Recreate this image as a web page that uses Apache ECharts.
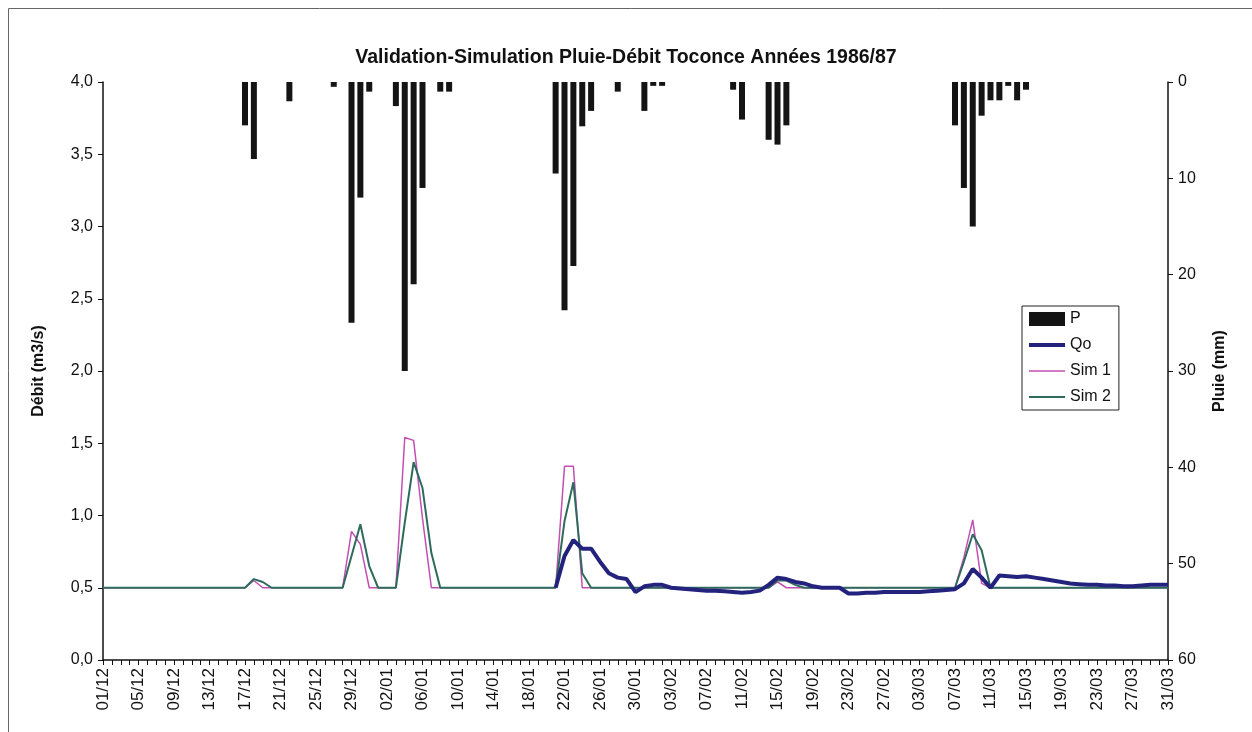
<!DOCTYPE html>
<html>
<head>
<meta charset="utf-8">
<script src="https://cdn.jsdelivr.net/npm/echarts@6/dist/echarts.min.js"></script>
<style>
html,body{margin:0;padding:0;background:#fff;}
#chart{width:1252px;height:732px;}
</style>
</head>
<body>
<div id="chart"></div>
<script>
var dates = [
'01/12','02/12','03/12','04/12','05/12','06/12','07/12','08/12','09/12','10/12','11/12','12/12','13/12','14/12','15/12','16/12','17/12','18/12','19/12','20/12','21/12','22/12','23/12','24/12','25/12','26/12','27/12','28/12','29/12','30/12','31/12',
'01/01','02/01','03/01','04/01','05/01','06/01','07/01','08/01','09/01','10/01','11/01','12/01','13/01','14/01','15/01','16/01','17/01','18/01','19/01','20/01','21/01','22/01','23/01','24/01','25/01','26/01','27/01','28/01','29/01','30/01','31/01',
'01/02','02/02','03/02','04/02','05/02','06/02','07/02','08/02','09/02','10/02','11/02','12/02','13/02','14/02','15/02','16/02','17/02','18/02','19/02','20/02','21/02','22/02','23/02','24/02','25/02','26/02','27/02','28/02',
'01/03','02/03','03/03','04/03','05/03','06/03','07/03','08/03','09/03','10/03','11/03','12/03','13/03','14/03','15/03','16/03','17/03','18/03','19/03','20/03','21/03','22/03','23/03','24/03','25/03','26/03','27/03','28/03','29/03','30/03','31/03'
];

// Pluie P (mm), daily
var rainDec = [0,0,0,0,0,0,0,0,0,0, 0,0,0,0,0,0,4.5,8,0,0, 0,2,0,0,0,0,0.5,0,25,12, 1];
var rainJan = [0,0,2.5,30,21,11,0,1,1,0, 0,0,0,0,0,0,0,0,0,0, 9.5,23.7,19.1,4.6,3,0,0,1,0,0, 3];
var rainFeb = [0.4,0.4,0,0,0,0,0,0,0,0.8, 3.9,0,0,6,6.5,4.5,0,0,0,0, 0,0,0,0,0,0,0,0];
var rainMar = [0,0,0,0,0,0,4.5,11,15,3.5, 1.9,1.9,0.4,1.9,0.8,0,0,0,0,0, 0,0,0,0,0,0,0,0,0,0, 0];

// Qo observed (m3/s)
var qoDec = [null,null,null,null,null,null,null,null,null,null, null,null,null,null,null,null,null,null,null,null, null,null,null,null,null,null,null,null,null,null, null];
var qoJan = [null,null,null,null,null,null,null,null,null,null, null,null,null,null,null,null,null,null,null,null, 0.5,0.72,0.83,0.77,0.77,0.68,0.6,0.57,0.56,0.47, 0.51];
var qoFeb = [0.52,0.52,0.5,0.495,0.49,0.485,0.48,0.48,0.475,0.47, 0.465,0.47,0.48,0.52,0.57,0.56,0.54,0.53,0.51,0.5, 0.5,0.5,0.46,0.46,0.465,0.465,0.47,0.47];
var qoMar = [0.47,0.47,0.47,0.475,0.48,0.485,0.49,0.53,0.63,0.57, 0.5,0.585,0.58,0.575,0.58,0.57,0.56,0.55,0.54,0.53, 0.525,0.52,0.52,0.515,0.515,0.51,0.51,0.515,0.52,0.52, 0.52];

// Sim 1
var s1Dec = [0.5,0.5,0.5,0.5,0.5,0.5,0.5,0.5,0.5,0.5, 0.5,0.5,0.5,0.5,0.5,0.5,0.5,0.55,0.5,0.5, 0.5,0.5,0.5,0.5,0.5,0.5,0.5,0.5,0.89,0.8, 0.5];
var s1Jan = [0.5,0.5,0.5,1.54,1.52,0.98,0.5,0.5,0.5,0.5, 0.5,0.5,0.5,0.5,0.5,0.5,0.5,0.5,0.5,0.5, 0.5,1.34,1.34,0.5,0.5,0.5,0.5,0.5,0.5,0.5, 0.5];
var s1Feb = [0.5,0.5,0.5,0.5,0.5,0.5,0.5,0.5,0.5,0.5, 0.5,0.5,0.5,0.5,0.54,0.5,0.5,0.5,0.5,0.5, 0.5,0.5,0.5,0.5,0.5,0.5,0.5,0.5];
var s1Mar = [0.5,0.5,0.5,0.5,0.5,0.5,0.5,0.71,0.97,0.53, 0.5,0.5,0.5,0.5,0.5,0.5,0.5,0.5,0.5,0.5, 0.5,0.5,0.5,0.5,0.5,0.5,0.5,0.5,0.5,0.5, 0.5];

// Sim 2
var s2Dec = [0.5,0.5,0.5,0.5,0.5,0.5,0.5,0.5,0.5,0.5, 0.5,0.5,0.5,0.5,0.5,0.5,0.5,0.56,0.54,0.5, 0.5,0.5,0.5,0.5,0.5,0.5,0.5,0.5,0.72,0.94, 0.65];
var s2Jan = [0.5,0.5,0.5,0.95,1.37,1.19,0.74,0.5,0.5,0.5, 0.5,0.5,0.5,0.5,0.5,0.5,0.5,0.5,0.5,0.5, 0.5,0.96,1.23,0.6,0.5,0.5,0.5,0.5,0.5,0.5, 0.5];
var s2Feb = [0.5,0.5,0.5,0.5,0.5,0.5,0.5,0.5,0.5,0.5, 0.5,0.5,0.5,0.5,0.55,0.55,0.52,0.5,0.5,0.5, 0.5,0.5,0.5,0.5,0.5,0.5,0.5,0.5];
var s2Mar = [0.5,0.5,0.5,0.5,0.5,0.5,0.5,0.68,0.87,0.76, 0.5,0.5,0.5,0.5,0.5,0.5,0.5,0.5,0.5,0.5, 0.5,0.5,0.5,0.5,0.5,0.5,0.5,0.5,0.5,0.5, 0.5];

var rain = rainDec.concat(rainJan, rainFeb, rainMar);
var qo = qoDec.concat(qoJan, qoFeb, qoMar);
var sim1 = s1Dec.concat(s1Jan, s1Feb, s1Mar);
var sim2 = s2Dec.concat(s2Jan, s2Feb, s2Mar);

var FONT = '"Liberation Sans", Arial, sans-serif';
var chart = echarts.init(document.getElementById('chart'), null, {renderer: 'canvas'});
chart.setOption({
  animation: false,
  backgroundColor: '#ffffff',
  textStyle: {fontFamily: FONT},
  title: {
    text: 'Validation-Simulation Pluie-Débit Toconce Années 1986/87',
    left: 'center', top: 43,
    textStyle: {fontFamily: FONT, fontSize: 19.5, fontWeight: 'bold', color: '#111'}
  },
  graphic: [{
    type: 'rect', silent: true,
    shape: {x: 8.5, y: 8.5, width: 1260, height: 760},
    style: {fill: 'none', stroke: '#666', lineWidth: 1}
  }],
  legend: {
    orient: 'vertical', left: 1022, top: 306,
    backgroundColor: '#fff',
    borderColor: '#222', borderWidth: 1,
    padding: [5, 8, 5, 5],
    itemWidth: 36, itemHeight: 14, itemGap: 10,
    textStyle: {fontFamily: FONT, fontSize: 16, color: '#111'},
    data: [
      {name: 'P', icon: 'rect'},
      {name: 'Qo', itemStyle: {opacity: 0}, lineStyle: {width: 4}},
      {name: 'Sim 1', itemStyle: {opacity: 0}, lineStyle: {width: 1.5}},
      {name: 'Sim 2', itemStyle: {opacity: 0}, lineStyle: {width: 2}}
    ]
  },
  grid: {left: 103, right: 84, top: 82, bottom: 72, containLabel: false},
  xAxis: {
    type: 'category', data: dates, boundaryGap: false,
    axisLine: {lineStyle: {color: '#111', width: 1.5}},
    axisTick: {show: true, interval: 0, length: 5, inside: false, lineStyle: {color: '#111'}},
    axisLabel: {interval: 3, rotate: 90, fontSize: 17, color: '#111', margin: 8, fontFamily: FONT},
    splitLine: {show: false}
  },
  yAxis: [{
    type: 'value', min: 0, max: 4, interval: 0.5,
    name: 'Débit (m3/s)', nameLocation: 'middle', nameGap: 56, nameRotate: 90,
    nameTextStyle: {fontFamily: FONT, fontSize: 16, fontWeight: 'bold', color: '#111'},
    axisLine: {show: true, lineStyle: {color: '#111', width: 1.5}},
    axisTick: {show: true, length: 5, lineStyle: {color: '#111'}},
    axisLabel: {fontSize: 16, color: '#111', margin: 10, fontFamily: FONT,
      formatter: function (v) { return v.toFixed(1).replace('.', ','); }},
    splitLine: {show: false}
  }, {
    type: 'value', min: 0, max: 60, interval: 10, inverse: true,
    name: 'Pluie (mm)', nameLocation: 'middle', nameGap: 44, nameRotate: 90,
    nameTextStyle: {fontFamily: FONT, fontSize: 16, fontWeight: 'bold', color: '#111'},
    axisLine: {show: true, lineStyle: {color: '#111', width: 1.5}},
    axisTick: {show: true, length: 5, lineStyle: {color: '#111'}},
    axisLabel: {fontSize: 16, color: '#111', margin: 10, fontFamily: FONT},
    splitLine: {show: false}
  }],
  series: [{
    name: 'P', type: 'bar', yAxisIndex: 1, data: rain,
    barWidth: 6, itemStyle: {color: '#141414'}, z: 2
  }, {
    name: 'Sim 1', type: 'line', data: sim1, symbol: 'none',
    lineStyle: {color: '#c24fb3', width: 1.5}, itemStyle: {color: '#c24fb3'}, z: 3
  }, {
    name: 'Sim 2', type: 'line', data: sim2, symbol: 'none',
    lineStyle: {color: '#2e6b5c', width: 2}, itemStyle: {color: '#2e6b5c'}, z: 4
  }, {
    name: 'Qo', type: 'line', data: qo, symbol: 'none', connectNulls: false,
    lineStyle: {color: '#23237e', width: 4}, itemStyle: {color: '#23237e'}, z: 5
  }]
});
</script>
</body>
</html>
